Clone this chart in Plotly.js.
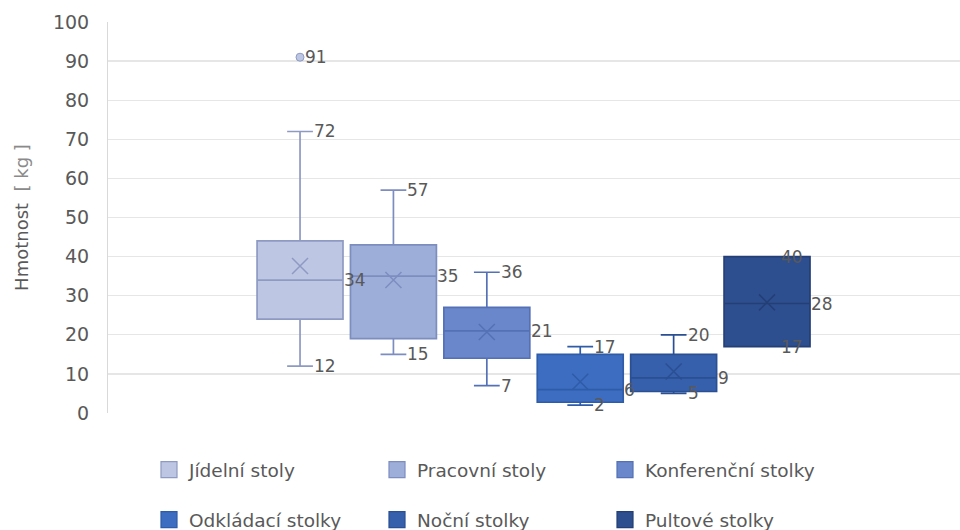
<!DOCTYPE html>
<html>
<head>
<meta charset="utf-8">
<script src="https://cdn.plot.ly/plotly-3.0.1.min.js"></script>
<style>html,body{margin:0;padding:0;background:#fff;}#chart{width:960px;height:530px;}</style>
</head>
<body>
<div id="chart"></div>
<script>
const categories = ['Jídelní stoly','Pracovní stoly','Konferenční stolky','Odkládací stolky','Noční stolky','Pultové stolky'];
const lowerWhisker = [12, 15, 7, 2, 5, 17];
const q1 = [24, 19, 14, 2.75, 5.5, 17];
const median = [34, 35, 21, 6, 9, 28];
const q3 = [44, 43, 27, 15, 15, 40];
const upperWhisker = [72, 57, 36, 17, 20, 40];
const means = [37.6, 34, 20.7, 8, 10.6, 28.3];
const outliers = [[91], [], [], [], [], []];
const fillColors = ['#BDC7E4', '#9DAED9', '#6A87CB', '#3D6DC0', '#3660AB', '#2D4F8F'];
const lineColors = ['#8E9AC2', '#7D8DC0', '#5571B6', '#2F5CA8', '#2A4F93', '#243F76'];

const FONT = 'DejaVu Sans';
const TXT = '#595959';
const BOXW = 0.92;

const traces = [];
const annotations = [];
categories.forEach((name, i) => {
  traces.push({
    type: 'box', orientation: 'v', x: [i],
    q1: [q1[i]], median: [median[i]], q3: [q3[i]],
    lowerfence: [lowerWhisker[i]], upperfence: [upperWhisker[i]],
    width: BOXW, whiskerwidth: 0.3, boxpoints: false,
    fillcolor: fillColors[i], line: {color: lineColors[i], width: 1.7},
    showlegend: false, hoverinfo: 'skip'
  });
  traces.push({
    type: 'scatter', mode: 'markers', x: [i], y: [means[i]],
    marker: {symbol: 'x-thin-open', size: 16, line: {color: lineColors[i], width: 1.5}, color: lineColors[i]},
    showlegend: false, hoverinfo: 'skip'
  });
  if (outliers[i].length) {
    traces.push({
      type: 'scatter', mode: 'markers', x: outliers[i].map(() => i), y: outliers[i],
      marker: {symbol: 'circle', size: 8, color: fillColors[i], line: {color: lineColors[i], width: 1}},
      showlegend: false, hoverinfo: 'skip'
    });
  }
  traces.push({
    type: 'scatter', mode: 'markers', x: [null], y: [null], name: name,
    legend: i < 3 ? 'legend' : 'legend2',
    marker: {symbol: 'square', size: 16, color: fillColors[i], line: {color: lineColors[i], width: 1.2}},
    hoverinfo: 'skip'
  });
  const lab = (x, y, text, shift) => annotations.push({
    xref: 'x', yref: 'y', x: x, y: y, text: String(text), showarrow: false,
    xanchor: 'left', yanchor: 'middle', xshift: shift,
    font: {family: FONT, size: 17, color: TXT}
  });
  lab(i, upperWhisker[i], upperWhisker[i], 12);
  lab(i, lowerWhisker[i], lowerWhisker[i], 12);
  lab(i + BOXW / 2, median[i], median[i], -1);
  outliers[i].forEach(v => lab(i, v, v, 3));
});

const legendBase = {
  orientation: 'h', xref: 'container', yref: 'container',
  xanchor: 'left', yanchor: 'middle', x: 149 / 960,
  entrywidth: 183, entrywidthmode: 'pixels',
  font: {family: FONT, size: 18.5, color: TXT},
  bgcolor: 'rgba(0,0,0,0)', traceorder: 'normal', itemsizing: 'trimmed'
};

const layout = {
  width: 960, height: 530,
  margin: {l: 108, r: 0, t: 22, b: 117},
  paper_bgcolor: '#fff', plot_bgcolor: '#fff',
  font: {family: FONT, color: TXT},
  boxmode: 'overlay',
  xaxis: {range: [-2.056, 7.066], showticklabels: false, showgrid: false, zeroline: false, showline: false, ticks: ''},
  yaxis: {
    range: [0, 100], dtick: 10, tick0: 0,
    showgrid: true, gridcolor: '#E6E6E6', gridwidth: 1.3,
    zeroline: false, showline: true, linecolor: '#D9D9D9', linewidth: 1,
    ticks: '', ticklabelstandoff: 14,
    tickfont: {family: FONT, size: 19, color: TXT},
    title: {text: 'Hmotnost  <span style="color:#8a8a8a">[ kg ]</span>', font: {family: FONT, size: 18, color: TXT}, standoff: 19}
  },
  legend: Object.assign({}, legendBase, {y: 1 - 470 / 530}),
  legend2: Object.assign({}, legendBase, {y: 1 - 520 / 530}),
  annotations: annotations,
  showlegend: true
};

Plotly.newPlot('chart', traces, layout, {displayModeBar: false, staticPlot: true});
</script>
</body>
</html>
